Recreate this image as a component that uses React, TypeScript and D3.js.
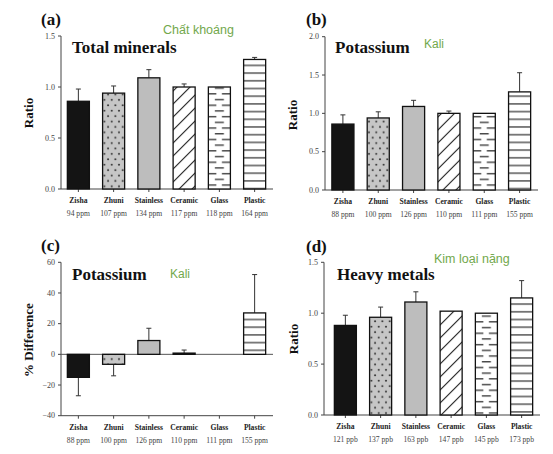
import React from 'react';
import * as d3 from 'd3';

const categories = ['Zisha', 'Zhuni', 'Stainless', 'Ceramic', 'Glass', 'Plastic'];

const mineralRatio = [0.86, 0.94, 1.09, 1.0, 1.0, 1.27];
const mineralErr = [0.12, 0.07, 0.08, 0.03, 0, 0.02];
const mineralConc = ['94 ppm', '107 ppm', '134 ppm', '117 ppm', '118 ppm', '164 ppm'];

const potassiumRatio = [0.86, 0.94, 1.09, 1.0, 1.0, 1.28];
const potassiumErr = [0.12, 0.08, 0.08, 0.03, 0, 0.25];
const potassiumConc = ['88 ppm', '100 ppm', '126 ppm', '110 ppm', '111 ppm', '155 ppm'];

const potassiumDiff = [-15, -6.5, 9, 0.8, 0, 27];
const potassiumDiffErr = [12, 7.5, 8, 2, 0, 25];

const metalRatio = [0.88, 0.96, 1.11, 1.02, 1.0, 1.15];
const metalErr = [0.1, 0.1, 0.1, 0, 0, 0.17];
const metalConc = ['121 ppb', '137 ppb', '163 ppb', '147 ppb', '145 ppb', '173 ppb'];

const ratioTicks15 = [0, 0.5, 1.0, 1.5];
const ratioTicks20 = [0, 0.5, 1.0, 1.5, 2.0];
const diffTicks = [-40, -20, 0, 20, 40, 60];

const SERIF = '"Liberation Serif", "Times New Roman", serif';
const SANS = '"Liberation Sans", Arial, sans-serif';
const GREEN = '#72a84c';

type PanelCfg = {
  id: string;
  letter: string;
  title: string;
  sub: string;
  yLabel: string;
  values: number[];
  errors: number[];
  conc: string[];
  domain: [number, number];
  ticks: number[];
  fmt: (v: number) => string;
  axisX: number;
  axisEnd: number;
  bandStart: number;
  bandEnd: number;
  yTop: number;
  yBottom: number;
  letterPos: [number, number];
  titlePos: [number, number];
  subPos: [number, number];
  subSize: number;
  yLabelPos: [number, number];
  zeroLine?: boolean;
};

const fmt1 = (v: number) => v.toFixed(1);
const fmt0 = (v: number) => d3.format('d')(v);

const panels: PanelCfg[] = [
  {
    id: 'a', letter: '(a)', title: 'Total minerals', sub: 'Chất khoáng', yLabel: 'Ratio',
    values: mineralRatio, errors: mineralErr, conc: mineralConc,
    domain: [0, 1.5], ticks: ratioTicks15, fmt: fmt1,
    axisX: 61, axisEnd: 273, bandStart: 61, bandEnd: 272, yTop: 36, yBottom: 189,
    letterPos: [41, 25], titlePos: [72, 53], subPos: [163, 34], subSize: 12.5, yLabelPos: [33, 113],
  },
  {
    id: 'b', letter: '(b)', title: 'Potassium', sub: 'Kali', yLabel: 'Ratio',
    values: potassiumRatio, errors: potassiumErr, conc: potassiumConc,
    domain: [0, 2.0], ticks: ratioTicks20, fmt: fmt1,
    axisX: 325, axisEnd: 538, bandStart: 325.5, bandEnd: 537, yTop: 36.7, yBottom: 190,
    letterPos: [306, 25], titlePos: [335, 53], subPos: [424, 48], subSize: 12, yLabelPos: [297, 115],
  },
  {
    id: 'c', letter: '(c)', title: 'Potassium', sub: 'Kali', yLabel: '% Difference',
    values: potassiumDiff, errors: potassiumDiffErr, conc: potassiumConc,
    domain: [-40, 60], ticks: diffTicks, fmt: fmt0,
    axisX: 61, axisEnd: 273, bandStart: 61, bandEnd: 272, yTop: 262.3, yBottom: 415.7,
    letterPos: [41, 251], titlePos: [72, 280], subPos: [170, 278], subSize: 12, yLabelPos: [33, 340],
    zeroLine: true,
  },
  {
    id: 'd', letter: '(d)', title: 'Heavy metals', sub: 'Kim loại nặng', yLabel: 'Ratio',
    values: metalRatio, errors: metalErr, conc: metalConc,
    domain: [0, 1.5], ticks: ratioTicks15, fmt: fmt1,
    axisX: 324, axisEnd: 540, bandStart: 328, bandEnd: 539, yTop: 262.3, yBottom: 415,
    letterPos: [306, 252], titlePos: [337, 280], subPos: [434, 263], subSize: 12.5, yLabelPos: [298, 339],
  },
];

function Patterns({ id, x, bw }: { id: string; x: (c: string) => number; bw: number }) {
  return (
    <defs>
      <pattern id={`dots-${id}`} patternUnits="userSpaceOnUse" x={x('Zhuni')} y={0} width={7.3} height={10.8}>
        <rect width={7.3} height={10.8} fill="#c6c6c6" />
        <circle cx={1.8} cy={2.7} r={1.05} fill="#3a3a3a" />
        <circle cx={5.5} cy={8.1} r={1.05} fill="#3a3a3a" />
      </pattern>
      <pattern id={`diag-${id}`} patternUnits="userSpaceOnUse" x={x('Ceramic')} y={0} width={13} height={13}>
        <rect width={13} height={13} fill="#fff" />
        <path d="M-1,14 L14,-1 M-1,1 L1,-1 M12,14 L14,12" stroke="#1a1a1a" strokeWidth={1.1} />
      </pattern>
      <pattern id={`dash-${id}`} patternUnits="userSpaceOnUse" x={x('Glass')} y={0} width={bw} height={11.4}>
        <rect width={bw} height={11.4} fill="#fff" />
        <rect x={0} y={2} width={8} height={1.3} fill="#333" />
        <rect x={bw - 8.5} y={2} width={8.5} height={1.3} fill="#333" />
        <rect x={bw / 2 - 4.5} y={7.7} width={9} height={1.3} fill="#333" />
      </pattern>
      <pattern id={`hline-${id}`} patternUnits="userSpaceOnUse" x={0} y={0} width={10} height={7.7}>
        <rect width={10} height={7.7} fill="#fff" />
        <line x1={0} x2={10} y1={3.8} y2={3.8} stroke="#1a1a1a" strokeWidth={1.1} />
      </pattern>
    </defs>
  );
}

function Panel({ cfg }: { cfg: PanelCfg }) {
  const x = d3.scaleBand<string>().domain(categories).range([cfg.bandStart, cfg.bandEnd]).paddingInner(0.375).paddingOuter(0.18);
  const y = d3.scaleLinear().domain(cfg.domain).range([cfg.yBottom, cfg.yTop]);
  const bw = x.bandwidth();
  const fills: Record<string, string> = {
    Zisha: '#141414',
    Zhuni: `url(#dots-${cfg.id})`,
    Stainless: '#bdbdbd',
    Ceramic: `url(#diag-${cfg.id})`,
    Glass: `url(#dash-${cfg.id})`,
    Plastic: `url(#hline-${cfg.id})`,
  };
  const base = cfg.domain[0] < 0 ? 0 : cfg.domain[0];
  return (
    <g>
      <Patterns id={cfg.id} x={(c) => x(c) as number} bw={bw} />
      {/* y axis */}
      <line x1={cfg.axisX} x2={cfg.axisX} y1={y(cfg.domain[1])} y2={y(cfg.domain[0])} stroke="#444" strokeWidth={1} />
      {cfg.ticks.map((t) => (
        <g key={t}>
          <line x1={cfg.axisX - 3} x2={cfg.axisX} y1={y(t)} y2={y(t)} stroke="#444" strokeWidth={1} />
          <text x={cfg.axisX - 6} y={y(t)} dy="0.33em" textAnchor="end" fontFamily={SERIF} fontSize={8} fill="#444">
            {cfg.fmt(t)}
          </text>
        </g>
      ))}
      {/* x axis */}
      <line x1={cfg.axisX} x2={cfg.axisEnd} y1={y(cfg.domain[0])} y2={y(cfg.domain[0])} stroke="#444" strokeWidth={1} />
      {categories.map((c) => (
        <line key={c} x1={(x(c) as number) + bw / 2} x2={(x(c) as number) + bw / 2} y1={y(cfg.domain[0])} y2={y(cfg.domain[0]) + 3} stroke="#444" strokeWidth={1} />
      ))}
      {cfg.zeroLine && (
        <line x1={cfg.axisX} x2={cfg.axisEnd} y1={y(0)} y2={y(0)} stroke="#555" strokeWidth={1} />
      )}
      {/* bars */}
      {categories.map((c, i) => {
        const v = cfg.values[i];
        const e = cfg.errors[i];
        const bx = x(c) as number;
        const cx = bx + bw / 2;
        const top = Math.min(y(v), y(base));
        const h = Math.abs(y(v) - y(base));
        const tip = v >= base ? v + e : v - e;
        return (
          <g key={c}>
            {e > 0 && (
              <g stroke="#333" strokeWidth={1}>
                <line x1={cx} x2={cx} y1={y(v)} y2={y(tip)} />
                <line x1={cx - 2.5} x2={cx + 2.5} y1={y(tip)} y2={y(tip)} />
              </g>
            )}
            {h > 0.2 && (
              <rect x={bx} y={top} width={bw} height={h} fill={fills[c]} stroke="#111" strokeWidth={1.3} />
            )}
          </g>
        );
      })}
      {/* category labels */}
      {categories.map((c, i) => (
        <g key={c}>
          <text x={(x(c) as number) + bw / 2} y={cfg.yBottom + 14} textAnchor="middle" fontFamily={SERIF} fontWeight="bold" fontSize={7.6} fill="#222">
            {c}
          </text>
          <text x={(x(c) as number) + bw / 2} y={cfg.yBottom + 27} textAnchor="middle" fontFamily={SERIF} fontSize={7.6} fill="#444">
            {cfg.conc[i]}
          </text>
        </g>
      ))}
      {/* labels */}
      <text x={cfg.letterPos[0]} y={cfg.letterPos[1]} fontFamily={SERIF} fontWeight="bold" fontSize={17} fill="#111">
        {cfg.letter}
      </text>
      <text x={cfg.titlePos[0]} y={cfg.titlePos[1]} fontFamily={SERIF} fontWeight="bold" fontSize={17} fill="#111">
        {cfg.title}
      </text>
      <text x={cfg.subPos[0]} y={cfg.subPos[1]} fontFamily={SANS} fontSize={cfg.subSize} fill={GREEN}>
        {cfg.sub}
      </text>
      <text
        x={cfg.yLabelPos[0]}
        y={cfg.yLabelPos[1]}
        transform={`rotate(-90, ${cfg.yLabelPos[0]}, ${cfg.yLabelPos[1]})`}
        textAnchor="middle"
        fontFamily={SERIF}
        fontWeight="bold"
        fontSize={13}
        fill="#111"
      >
        {cfg.yLabel}
      </text>
    </g>
  );
}

export default function App() {
  return (
    <svg
      width={553}
      height={454}
      viewBox="0 0 553 454"
      style={{ position: 'absolute', left: 0, top: 0, background: '#fff' }}
    >
      <rect width={553} height={454} fill="#fff" />
      {panels.map((p) => (
        <Panel key={p.id} cfg={p} />
      ))}
    </svg>
  );
}
